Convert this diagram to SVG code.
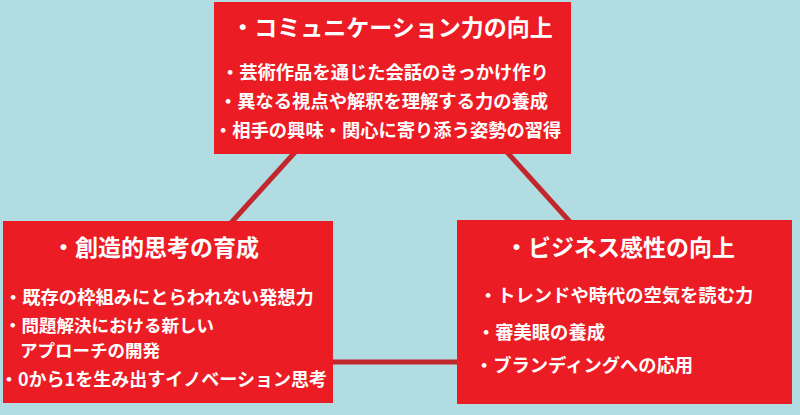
<svg xmlns="http://www.w3.org/2000/svg" width="800" height="415" viewBox="0 0 800 415">
<style>
.box{fill:#ec1c24;}
.conn{stroke:#c1272d;stroke-width:5;fill:none;}
text{fill:#ffffff;font-family:"Noto Sans CJK JP","Noto Sans CJK SC",sans-serif;font-weight:700;}
.title{font-size:23px;}
.item{font-size:18.3px;}
</style>
<rect x="0" y="0" width="800" height="415" fill="#b1dde2"/>
<g id="connectors">
<line class="conn" x1="297" y1="150" x2="230" y2="224"/>
<line class="conn" x1="505" y1="150" x2="571" y2="223"/>
<line class="conn" x1="330" y1="362" x2="460" y2="362"/>
</g>
<g id="node-communication">
<rect class="box" x="214" y="2" width="357" height="152"/>
<text class="title" x="392" y="36" text-anchor="middle">・コミュニケーション力の向上</text>
<text class="item" x="221" y="79">・芸術作品を通じた会話のきっかけ作り</text>
<text class="item" x="219" y="108">・異なる視点や解釈を理解する力の養成</text>
<text class="item" x="214" y="137">・相手の興味・関心に寄り添う姿勢の習得</text>
</g>
<g id="node-creative">
<rect class="box" x="3" y="221" width="330" height="182"/>
<text class="title" x="52" y="256">・創造的思考の育成</text>
<text class="item" x="4" y="304">・既存の枠組みにとらわれない発想力</text>
<text class="item" x="4" y="332" style="font-size:17.5px">・問題解決における新しい</text>
<text class="item" x="20" y="357" style="font-size:17.5px">アプローチの開発</text>
<text class="item" x="0" y="386" style="font-size:18px">・0から1を生み出すイノベーション思考</text>
</g>
<g id="node-business">
<rect class="box" x="457" y="220" width="335" height="184"/>
<text class="title" x="505" y="256">・ビジネス感性の向上</text>
<text class="item" x="479" y="302">・トレンドや時代の空気を読む力</text>
<text class="item" x="477" y="339">・審美眼の養成</text>
<text class="item" x="475" y="372">・ブランディングへの応用</text>
</g>
</svg>
